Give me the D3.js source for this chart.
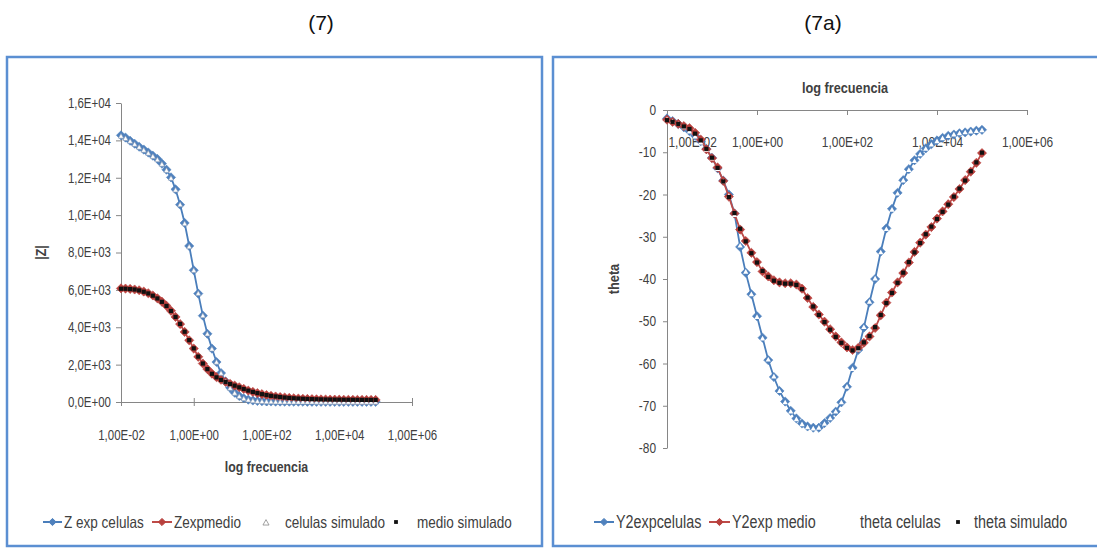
<!DOCTYPE html>
<html>
<head>
<meta charset="utf-8">
<script src="https://cdn.jsdelivr.net/npm/d3@7"></script>
<style>
  html, body { margin: 0; padding: 0; background: #fff; }
  svg { display: block; }
  text { font-family: "Liberation Sans", Arial, sans-serif; }
</style>
</head>
<body>
<svg id="chart" width="1097" height="548"></svg>
<script>
// Frequencies (Hz), 8 points per decade, 0.01 Hz .. 100 kHz
const freq = [
  0.01, 0.0133, 0.0178, 0.0237, 0.0316, 0.0422, 0.0562, 0.075,
  0.1, 0.133, 0.178, 0.237, 0.316, 0.422, 0.562, 0.75,
  1, 1.33, 1.78, 2.37, 3.16, 4.22, 5.62, 7.5,
  10, 13.3, 17.8, 23.7, 31.6, 42.2, 56.2, 75,
  100, 133, 178, 237, 316, 422, 562, 750,
  1000, 1330, 1780, 2370, 3160, 4220, 5620, 7500,
  10000, 13300, 17800, 23700, 31600, 42200, 56200, 75000,
  100000
];

// |Z| (ohm)
const zCelulas = [
  14270, 14150, 13980, 13820, 13660, 13510, 13350, 13180, 13010, 12760,
  12430, 12020, 11380, 10560, 9580, 8350, 7050, 5800, 4620, 3650,
  2860, 2140, 1550, 1100, 760, 500, 320, 200, 125, 80,
  55, 40, 32, 27, 23, 20, 18, 16, 15, 14,
  13, 12, 12, 11, 11, 10, 10, 10, 9, 9,
  9, 9, 8, 8, 8, 8, 8
];
const zMedio = [
  6080, 6070, 6050, 6020, 5980, 5910, 5820, 5700, 5550, 5370,
  5150, 4880, 4550, 4170, 3750, 3300, 2860, 2420, 2060, 1760,
  1520, 1330, 1190, 1080, 970, 880, 790, 700, 610, 540,
  475, 420, 370, 330, 295, 265, 240, 218, 200, 185,
  172, 162, 153, 146, 140, 135, 131, 127, 124, 121,
  119, 117, 115, 113, 112, 111, 110
];
const zCelulasSim = [
  14240, 14120, 13970, 13810, 13650, 13490, 13330, 13160, 12980, 12740,
  12410, 11990, 11360, 10580, 9560, 8330, 7060, 5830, 4640, 3660,
  2850, 2150, 1560, 1110, 750, 490, 315, 198, 124, 80,
  54, 40, 31, 26, 22, 19, 17, 16, 15, 14,
  13, 12, 12, 11, 11, 10, 10, 10, 9, 9,
  9, 9, 8, 8, 8, 8, 8
];
const zMedioSim = [
  6060, 6060, 6040, 6020, 5970, 5900, 5810, 5690, 5540, 5360,
  5140, 4870, 4550, 4180, 3760, 3310, 2870, 2430, 2060, 1760,
  1510, 1320, 1180, 1070, 965, 875, 785, 695, 610, 540,
  475, 418, 370, 330, 296, 266, 240, 218, 200, 186,
  172, 162, 153, 146, 140, 135, 131, 127, 124, 121,
  119, 117, 115, 113, 112, 111, 110
];

// Phase angle (degrees)
const thetaCelulas = [
  -2.0, -2.6, -3.3, -4.1, -5.0, -6.1, -7.4, -9.2, -11.3, -13.8,
  -16.7, -20.0, -24.5, -32.4, -38.5, -43.6, -48.8, -53.9, -59.2, -63.2,
  -66.5, -69.0, -71.2, -73.0, -74.2, -74.9, -75.2, -75.2, -74.1, -72.9,
  -71.4, -69.2, -65.5, -61.0, -56.8, -51.5, -45.5, -40.0, -33.5, -28.0,
  -23.4, -19.6, -16.6, -14.0, -11.9, -10.4, -9.1, -8.1, -7.2, -6.6,
  -6.1, -5.8, -5.5, -5.3, -5.1, -4.9, -4.7
];
const thetaMedio = [
  -2.3, -2.8, -3.3, -3.8, -4.3, -5.4, -7.0, -9.3, -11.4, -13.6,
  -16.8, -20.5, -24.5, -28.3, -31.0, -33.8, -36.0, -38.2, -39.4, -40.3,
  -40.8, -41.0, -41.0, -41.3, -42.3, -44.5, -46.6, -48.4, -50.1, -51.9,
  -53.6, -55.0, -56.2, -56.8, -56.3, -55.1, -53.6, -51.6, -48.6, -45.6,
  -43.2, -40.8, -38.6, -36.1, -33.6, -31.4, -29.5, -27.7, -25.7, -24.0,
  -22.3, -20.6, -18.7, -16.6, -14.6, -12.5, -10.2
];
const thetaCelulasSim = [
  -2.1, -2.6, -3.2, -4.0, -5.0, -6.2, -7.6, -9.3, -11.4, -13.9,
  -16.8, -20.2, -24.8, -32.0, -38.2, -43.5, -48.9, -54.0, -59.0, -63.0,
  -66.4, -69.1, -71.3, -73.1, -74.3, -75.0, -75.3, -75.1, -74.2, -72.9,
  -71.3, -69.1, -65.4, -61.2, -56.6, -51.3, -45.3, -39.8, -33.6, -28.1,
  -23.5, -19.7, -16.6, -14.1, -12.0, -10.4, -9.1, -8.1, -7.3, -6.6,
  -6.1, -5.7, -5.4, -5.2, -5.0, -4.9, -4.7
];
const thetaMedioSim = [
  -2.4, -2.8, -3.3, -3.9, -4.5, -5.6, -7.2, -9.2, -11.3, -13.7,
  -16.9, -20.6, -24.4, -28.1, -31.1, -33.9, -36.1, -38.1, -39.5, -40.4,
  -40.9, -41.1, -41.1, -41.4, -42.4, -44.4, -46.5, -48.5, -50.2, -52.0,
  -53.7, -55.1, -56.3, -56.9, -56.4, -55.0, -53.5, -51.4, -48.5, -45.7,
  -43.3, -40.9, -38.5, -36.0, -33.7, -31.5, -29.4, -27.6, -25.8, -24.1,
  -22.4, -20.5, -18.6, -16.7, -14.5, -12.4, -10.1
];

// Axis ticks and labels
const freqTicks = [1e-2, 1e0, 1e2, 1e4, 1e6];
const zTicks = [0, 2000, 4000, 6000, 8000, 10000, 12000, 14000, 16000];
const thetaTicks = [0, -10, -20, -30, -40, -50, -60, -70, -80];
const panelTitles = ["(7)", "(7a)"];
const leftLegend = ["Z exp celulas", "Zexpmedio", "celulas simulado", "medio simulado"];
const rightLegend = ["Y2expcelulas", "Y2exp medio", "theta celulas", "theta simulado"];

// Excel-style scientific label: 1,00E+02
function sciLabel(v, digits) {
  if (v === 0) return (0).toFixed(digits).replace(".", ",") + "E+00";
  const e = Math.floor(Math.log10(Math.abs(v)) + 1e-9);
  const m = v / Math.pow(10, e);
  const es = (e < 0 ? "-" : "+") + String(Math.abs(e)).padStart(2, "0");
  return m.toFixed(digits).replace(".", ",") + "E" + es;
}

const BLUE = "#4a7ebb", RED = "#be4b48", BLUE_M = "#4f81bd", RED_M = "#b8403d";
const AXIS = "#868686", TXT = "#404040";
const FONT = '"Liberation Sans", Arial, sans-serif';
const NARROW = 0.82; // horizontal squeeze giving a narrow face

const diamond = r => `M0,${-r}L${r},0L0,${r}L${-r},0Z`;
const triangle = r => `M0,${-r}L${r * 0.9},${r * 0.6}L${-r * 0.9},${r * 0.6}Z`;

// squeeze text horizontally to a narrow width
function condense(sel) {
  sel.each(function () {
    const w = this.getComputedTextLength();
    d3.select(this).attr("textLength", w * NARROW).attr("lengthAdjust", "spacingAndGlyphs");
  });
}

const svg = d3.select("#chart");

// Frames and panel titles
svg.append("rect").attr("x", 7).attr("y", 57).attr("width", 535).attr("height", 489)
  .attr("fill", "none").attr("stroke", "#5b8fd2").attr("stroke-width", 2.5);
svg.append("rect").attr("x", 553).attr("y", 57).attr("width", 570).attr("height", 489)
  .attr("fill", "none").attr("stroke", "#5b8fd2").attr("stroke-width", 2.5);

svg.selectAll(".ptitle").data(panelTitles).join("text")
  .attr("class", "ptitle")
  .attr("x", (d, i) => i === 0 ? 321 : 823).attr("y", 30)
  .attr("text-anchor", "middle")
  .style("font-size", "21px").attr("fill", "#111")
  .text(d => d);

function styleAxis(g, size) {
  g.attr("font-family", null).attr("font-size", null);
  g.select(".domain").attr("stroke", AXIS).attr("stroke-width", 1);
  g.selectAll(".tick line").attr("stroke", AXIS);
  g.selectAll(".tick text").attr("fill", TXT).style("font-family", FONT).style("font-size", size + "px");
}

function drawSeries(g, x, y, values, color, markerColor) {
  const line = d3.line().x((d, i) => x(freq[i])).y(d => y(d));
  g.append("path").datum(values).attr("d", line)
    .attr("fill", "none").attr("stroke", color).attr("stroke-width", 1.8);
  g.append("g").selectAll("path").data(values).join("path")
    .attr("transform", (d, i) => `translate(${x(freq[i])},${y(d)})`)
    .attr("d", diamond(4.6)).attr("fill", markerColor).attr("stroke", markerColor).attr("stroke-width", 0.6);
}

function drawTriangles(g, x, y, values, stroke) {
  g.append("g").selectAll("path").data(values).join("path")
    .attr("transform", (d, i) => `translate(${x(freq[i])},${y(d) + 0.6})`)
    .attr("d", triangle(2.9)).attr("fill", "#fff")
    .attr("stroke", stroke).attr("stroke-width", stroke === "none" ? 0 : 0.6);
}

function drawSquares(g, x, y, values) {
  g.append("g").selectAll("rect").data(values).join("rect")
    .attr("x", (d, i) => x(freq[i]) - 2.1).attr("y", d => y(d) - 2.1)
    .attr("width", 4.2).attr("height", 4.2).attr("fill", "#111");
}

function drawLegend(items, y, size) {
  const g = svg.append("g");
  items.forEach(it => {
    if (it.kind === "line") {
      g.append("line").attr("x1", it.x0).attr("x2", it.x1).attr("y1", y).attr("y2", y)
        .attr("stroke", it.color).attr("stroke-width", 2);
      g.append("path").attr("transform", `translate(${(it.x0 + it.x1) / 2},${y})`)
        .attr("d", diamond(3.6)).attr("fill", it.marker).attr("stroke", it.marker);
    } else if (it.kind === "tri") {
      g.append("path").attr("transform", `translate(${it.x0},${y + 1})`)
        .attr("d", triangle(3.4)).attr("fill", "#fff")
        .attr("stroke", it.stroke).attr("stroke-width", it.stroke === "none" ? 0 : 0.8);
    } else {
      g.append("rect").attr("x", it.x0 - 1.9).attr("y", y - 1.9)
        .attr("width", 3.8).attr("height", 3.8).attr("fill", "#111");
    }
    g.append("text").attr("x", it.tx).attr("y", y).attr("dy", "0.35em")
      .attr("fill", TXT).style("font-size", size + "px")
      .text(it.label).call(condense);
  });
}

function axisTitle(g, label, x, y, size, rotate) {
  g.append("text")
    .attr("transform", `translate(${x},${y})` + (rotate ? " rotate(-90)" : ""))
    .attr("text-anchor", "middle").attr("fill", TXT)
    .style("font-size", size + "px").style("font-weight", "bold")
    .text(label).call(condense);
}

// ---------- Left panel: |Z| vs frequency ----------
{
  const x = d3.scaleLog().domain([1e-2, 1e6]).range([121, 412]);
  const y = d3.scaleLinear().domain([0, 16000]).range([402, 103]);
  const g = svg.append("g");

  const ax = g.append("g").attr("transform", `translate(0,${y(0)})`)
    .call(d3.axisBottom(x).tickValues(freqTicks).tickFormat(d => sciLabel(d, 2)).tickSize(4).tickSizeOuter(0));
  styleAxis(ax, 14);
  ax.selectAll(".tick line").attr("y1", -4).attr("y2", 4);
  ax.selectAll(".tick text").attr("y", 33.5).attr("dy", "0.35em").call(condense);

  const ay = g.append("g").attr("transform", `translate(${x(1e-2)},0)`)
    .call(d3.axisLeft(y).tickValues(zTicks).tickFormat(d => sciLabel(d, 1)).tickSize(5).tickPadding(5).tickSizeOuter(0));
  styleAxis(ay, 14);
  ay.selectAll(".tick text").call(condense);

  axisTitle(g, "log frecuencia", (x.range()[0] + x.range()[1]) / 2, 472, 15, false);
  axisTitle(g, "|Z|", 46, (y.range()[0] + y.range()[1]) / 2, 15, true);

  drawSeries(g, x, y, zCelulas, BLUE, BLUE_M);
  drawSeries(g, x, y, zMedio, RED, RED_M);
  drawTriangles(g, x, y, zCelulasSim, "#8a9bb3");
  drawSquares(g, x, y, zMedioSim);

  drawLegend([
    { kind: "line", x0: 43, x1: 62, color: BLUE, marker: BLUE_M, tx: 64, label: leftLegend[0] },
    { kind: "line", x0: 152, x1: 172, color: RED, marker: RED_M, tx: 174, label: leftLegend[1] },
    { kind: "tri", x0: 266, stroke: "#8a8a8a", tx: 285, label: leftLegend[2] },
    { kind: "sq", x0: 396, tx: 417, label: leftLegend[3] }
  ], 522, 16.5);
}

// ---------- Right panel: phase vs frequency ----------
{
  const x = d3.scaleLog().domain([1e-2, 1e6]).range([667, 1027]);
  const y = d3.scaleLinear().domain([0, -80]).range([110, 448]);
  const g = svg.append("g");

  const ax = g.append("g").attr("transform", `translate(0,${y(0)})`)
    .call(d3.axisBottom(x).tickValues(freqTicks).tickFormat(d => sciLabel(d, 2)).tickSize(5).tickSizeOuter(0));
  styleAxis(ax, 14.5);
  ax.selectAll(".tick text").attr("y", 31.7).attr("dy", "0.35em")
    .attr("text-anchor", (d, i) => i === 0 ? "start" : "middle")
    .attr("x", (d, i) => i === 0 ? 1 : 0)
    .call(condense);

  const ay = g.append("g").attr("transform", `translate(${x(1e-2)},0)`)
    .call(d3.axisLeft(y).tickValues(thetaTicks).tickFormat(d => String(d)).tickSize(4).tickPadding(7).tickSizeOuter(0));
  styleAxis(ay, 14.5);
  ay.selectAll(".tick text").call(condense);

  axisTitle(g, "log frecuencia", (x.range()[0] + x.range()[1]) / 2 - 2, 93, 15.5, false);
  axisTitle(g, "theta", 619, (y.range()[0] + y.range()[1]) / 2, 15.5, true);

  drawSeries(g, x, y, thetaCelulas, BLUE, BLUE_M);
  drawSeries(g, x, y, thetaMedio, RED, RED_M);
  drawTriangles(g, x, y, thetaCelulasSim, "none");
  drawSquares(g, x, y, thetaMedioSim);

  drawLegend([
    { kind: "line", x0: 594, x1: 614, color: BLUE, marker: BLUE_M, tx: 616, label: rightLegend[0] },
    { kind: "line", x0: 709, x1: 730, color: RED, marker: RED_M, tx: 732, label: rightLegend[1] },
    { kind: "tri", x0: 845, stroke: "none", tx: 860, label: rightLegend[2] },
    { kind: "sq", x0: 958, tx: 974, label: rightLegend[3] }
  ], 522, 17.5);
}
</script>
</body>
</html>
